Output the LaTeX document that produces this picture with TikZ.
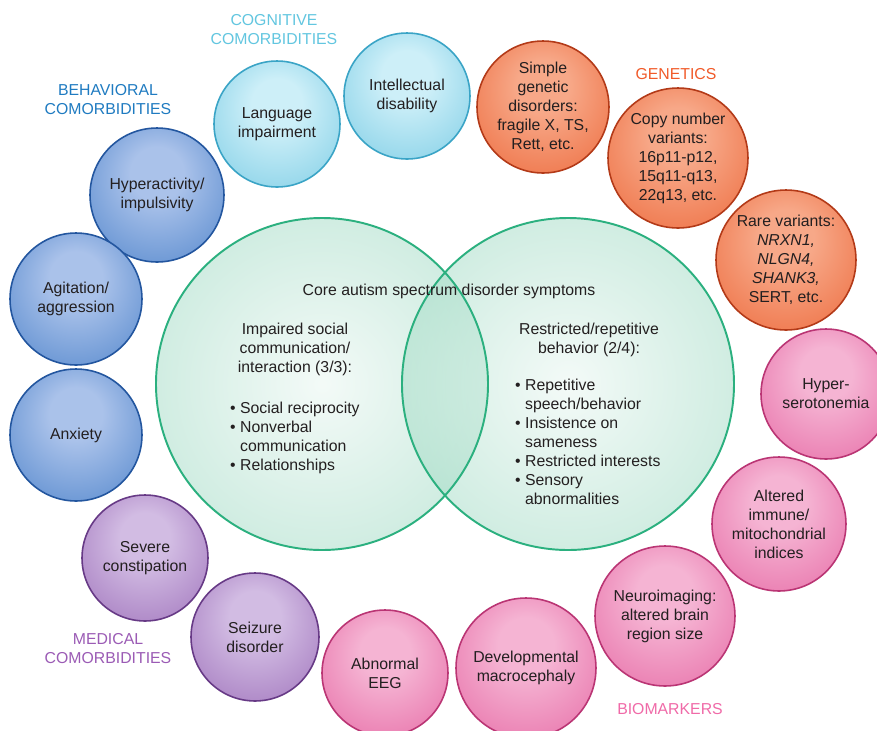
\documentclass[tikz,border=0pt]{standalone}
\usepackage{fontspec}
\setmainfont{Liberation Sans}
\usepackage{tikz}

\definecolor{ink}{HTML}{231F20}
\definecolor{mint}{HTML}{93D6BC}
\definecolor{venngreen}{HTML}{2BB07F}
\definecolor{cogin}{HTML}{CDEFF8}
\definecolor{cogout}{HTML}{5FC0DE}
\definecolor{cogrim}{HTML}{3AA4C6}
\definecolor{coglabel}{HTML}{62C6E0}
\definecolor{behin}{HTML}{AAC2EA}
\definecolor{behout}{HTML}{306FC0}
\definecolor{behrim}{HTML}{23569F}
\definecolor{behlabel}{HTML}{1F7BC1}
\definecolor{genin}{HTML}{F7A888}
\definecolor{genout}{HTML}{E9521F}
\definecolor{genrim}{HTML}{B33A18}
\definecolor{genlabel}{HTML}{F15A29}
\definecolor{medin}{HTML}{D2BCE3}
\definecolor{medout}{HTML}{8C57AC}
\definecolor{medrim}{HTML}{673A86}
\definecolor{medlabel}{HTML}{9B5BB5}
\definecolor{bioin}{HTML}{F5B4D3}
\definecolor{bioout}{HTML}{E14F94}
\definecolor{biorim}{HTML}{BA3574}
\definecolor{biolabel}{HTML}{F06AA8}

\pgfdeclareradialshading[bubin,bubmid,bubout,bubrim]{bubble}{\pgfpoint{0bp}{10bp}}{%
  color(0bp)=(bubin); color(10bp)=(bubin); color(30bp)=(bubmid);
  color(43bp)=(bubout); color(50bp)=(bubrim)}

\newcommand{\figfont}{\fontsize{9}{10.8}\selectfont}

\tikzstyle{bubble}=[circle,inner sep=0pt,shading=bubble,line width=0.9pt,align=center,text=ink,font=\figfont]
\tikzstyle{group-label}=[align=center,font=\figfont]
\tikzstyle{venn-circle}=[circle,inner sep=0pt,minimum size=6.64cm,shading=radial,inner color=mint!20,outer color=mint!85,fill opacity=0.5]
\tikzstyle{venn-line}=[draw=venngreen,line width=1.1pt]
\tikzstyle{venn-text}=[text=ink,font=\figfont]

\begin{document}
\begin{tikzpicture}[x=0.02cm,y=-0.02cm]
	\useasboundingbox[fill=white] (0,0) rectangle (877,731);

	% core symptoms
	\begin{scope}
	\node (social-circle)[venn-circle] at (322,384) {};
	\node (repetitive-circle)[venn-circle] at (568,384) {};
	\path[venn-line] (social-circle.center) circle[radius=166];
	\path[venn-line] (repetitive-circle.center) circle[radius=166];

	\node (core-title)[venn-text] at (449,291) {Core autism spectrum disorder symptoms};
	\node (social-head)[venn-text,align=center] at (295,349) {Impaired social\\communication/\\interaction (3/3):};
	\node (social-list)[venn-text,align=left,anchor=west] at (224,438) {\textbullet\ Social reciprocity\\\textbullet\ Nonverbal\\\hphantom{\textbullet\ }communication\\\textbullet\ Relationships};
	\node (repetitive-head)[venn-text,align=center] at (589,340) {Restricted/repetitive\\behavior (2/4):};
	\node (repetitive-list)[venn-text,align=left,anchor=west] at (509,442) {\textbullet\ Repetitive\\\hphantom{\textbullet\ }speech/behavior\\\textbullet\ Insistence on\\\hphantom{\textbullet\ }sameness\\\textbullet\ Restricted interests\\\textbullet\ Sensory\\\hphantom{\textbullet\ }abnormalities};
	\end{scope}

	% cognitive
	\begin{scope}
	\colorlet{bubin}{cogin}\colorlet{bubmid}{cogin!50!cogout}\colorlet{bubout}{cogout}\colorlet{bubrim}{cogrim}
	\node (cognitive)[group-label,text=coglabel] at (274,30) {COGNITIVE\\COMORBIDITIES};
	\node (language)[bubble,draw=cogrim,minimum size=2.52cm] at (277,124) {Language\\impairment};
	\node (intellectual)[bubble,draw=cogrim,minimum size=2.52cm] at (407,96) {Intellectual\\disability};
	\end{scope}

	% genetics
	\begin{scope}
	\colorlet{bubin}{genin}\colorlet{bubmid}{genin!50!genout}\colorlet{bubout}{genout}\colorlet{bubrim}{genrim}
	\node (genetics)[group-label,text=genlabel] at (676,74) {GENETICS};
	\node (simple)[bubble,draw=genrim,minimum size=2.64cm] at (543,107) {Simple\\genetic\\disorders:\\fragile X, TS,\\Rett, etc.};
	\node (copy-number)[bubble,draw=genrim,minimum size=2.8cm] at (678,158) {Copy number\\variants:\\16p11-p12,\\15q11-q13,\\22q13, etc.};
	\node (rare)[bubble,draw=genrim,minimum size=2.8cm] at (786,260) {Rare variants:\\\textit{NRXN1,}\\\textit{NLGN4,}\\\textit{SHANK3,}\\SERT, etc.};
	\end{scope}

	% behavioral
	\begin{scope}
	\colorlet{bubin}{behin}\colorlet{bubmid}{behin!50!behout}\colorlet{bubout}{behout}\colorlet{bubrim}{behrim}
	\node (behavioral)[group-label,text=behlabel] at (108,100) {BEHAVIORAL\\COMORBIDITIES};
	\node (hyperactivity)[bubble,draw=behrim,minimum size=2.68cm] at (157,195) {Hyperactivity/\\impulsivity};
	\node (agitation)[bubble,draw=behrim,minimum size=2.64cm] at (76,299) {Agitation/\\aggression};
	\node (anxiety)[bubble,draw=behrim,minimum size=2.64cm] at (76,435) {Anxiety};
	\end{scope}

	% medical
	\begin{scope}
	\colorlet{bubin}{medin}\colorlet{bubmid}{medin!50!medout}\colorlet{bubout}{medout}\colorlet{bubrim}{medrim}
	\node (medical)[group-label,text=medlabel] at (108,649) {MEDICAL\\COMORBIDITIES};
	\node (constipation)[bubble,draw=medrim,minimum size=2.52cm] at (145,558) {Severe\\constipation};
	\node (seizure)[bubble,draw=medrim,minimum size=2.56cm] at (255,637) {Seizure\\disorder};
	\end{scope}

	% biomarkers
	\begin{scope}
	\colorlet{bubin}{bioin}\colorlet{bubmid}{bioin!50!bioout}\colorlet{bubout}{bioout}\colorlet{bubrim}{biorim}
	\node (biomarkers)[group-label,text=biolabel] at (670,709) {BIOMARKERS};
	\node (eeg)[bubble,draw=biorim,minimum size=2.52cm] at (385,673) {Abnormal\\EEG};
	\node (macrocephaly)[bubble,draw=biorim,minimum size=2.8cm] at (526,668) {Developmental\\macrocephaly};
	\node (neuroimaging)[bubble,draw=biorim,minimum size=2.8cm] at (665,616) {Neuroimaging:\\altered brain\\region size};
	\node (immune)[bubble,draw=biorim,minimum size=2.68cm] at (779,524) {Altered\\immune/\\mitochondrial\\indices};
	\node (serotonemia)[bubble,draw=biorim,minimum size=2.6cm] at (826,394) {Hyper-\\serotonemia};
	\end{scope}
\end{tikzpicture}
\end{document}
